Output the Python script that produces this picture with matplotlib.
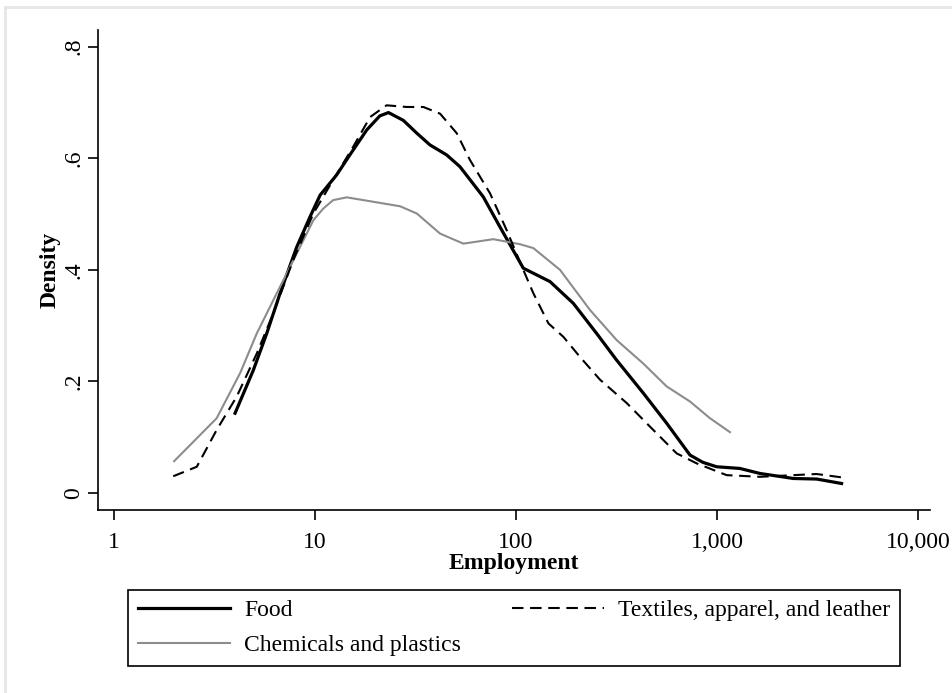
import numpy as np
import matplotlib.pyplot as plt
from matplotlib.lines import Line2D

plt.rcParams['font.family'] = ['Liberation Serif', 'DejaVu Serif']

# Kernel density of log employment
food_x = [4.0, 4.93, 5.75, 6.70, 8.11, 9.44, 10.6, 12.8, 14.9, 18.1, 21.0, 23.2, 27.5,
          32.1, 37.3, 45.2, 52.6, 68.7, 83.2, 108.7, 147.6, 192.8, 251.9, 317, 430,
          562, 734, 850, 996, 1300, 1636, 2399, 3133, 4170]
food_y = [0.143, 0.220, 0.286, 0.358, 0.441, 0.495, 0.534, 0.570, 0.606, 0.651, 0.676,
          0.682, 0.668, 0.645, 0.624, 0.606, 0.585, 0.531, 0.477, 0.403, 0.379, 0.340,
          0.286, 0.238, 0.179, 0.125, 0.068, 0.055, 0.047, 0.044, 0.035, 0.026, 0.025,
          0.017]

tex_x = [1.97, 2.58, 3.24, 4.08, 5.13, 6.20, 7.80, 9.81, 12.3, 15.5, 18.8, 22.7, 28.6,
         34.6, 41.9, 50.7, 59.0, 74.3, 89.9, 108.7, 122, 145, 172, 208, 262, 356, 464,
         630, 793, 1117, 1636, 2399, 3133, 4170]
tex_y = [0.030, 0.047, 0.113, 0.173, 0.250, 0.322, 0.418, 0.501, 0.561, 0.621, 0.674,
         0.695, 0.692, 0.692, 0.680, 0.645, 0.597, 0.537, 0.471, 0.400, 0.358, 0.304,
         0.280, 0.244, 0.203, 0.161, 0.119, 0.071, 0.053, 0.032, 0.029, 0.032, 0.034,
         0.028]

chem_x = [1.99, 3.24, 4.24, 5.13, 6.45, 8.42, 9.81, 11.0, 12.3, 14.4, 18.1, 21.9, 26.5,
          32.1, 41.9, 54.7, 77.1, 104.7, 122, 165.6, 233.5, 317, 430, 562, 734, 923,
          1161]
chem_y = [0.057, 0.134, 0.215, 0.286, 0.358, 0.441, 0.489, 0.510, 0.525, 0.530, 0.524,
          0.519, 0.514, 0.501, 0.465, 0.447, 0.455, 0.446, 0.439, 0.400, 0.328, 0.274,
          0.232, 0.191, 0.164, 0.134, 0.109]

xticks = [1, 10, 100, 1000, 10000]
xticklabels = ['1', '10', '100', '1,000', '10,000']
yticks = [0, 0.2, 0.4, 0.6, 0.8]
yticklabels = ['0', '.2', '.4', '.6', '.8']

fig = plt.figure(figsize=(9.53, 6.93), dpi=100)
ax = fig.add_axes([98 / 953, 1 - 510 / 693, (930 - 98) / 953, (510 - 30) / 693])

ax.plot(food_x, food_y, color='black', lw=2.3, label='Food')
ax.plot(chem_x, chem_y, color='#8c8c8c', lw=1.5, label='Chemicals and plastics')
ax.plot(tex_x, tex_y, color='black', lw=1.5, dashes=(5.5, 3.2),
        label='Textiles, apparel, and leather')

ax.set_xscale('log')
ax.set_xlim(0.832, 11480)
ax.set_ylim(-0.0305, 0.830)
ax.set_xticks(xticks)
ax.set_xticklabels(xticklabels)
ax.xaxis.set_minor_locator(plt.NullLocator())
ax.set_yticks(yticks)
ax.set_yticklabels(yticklabels, rotation=90, va='center')
ax.tick_params(labelsize=17, length=7, width=1.2, direction='out')
ax.tick_params(axis='x', pad=9)
ax.tick_params(axis='y', pad=3)
for s in ['top', 'right']:
    ax.spines[s].set_visible(False)
for s in ['left', 'bottom']:
    ax.spines[s].set_linewidth(1.2)

ax.set_xlabel('Employment', fontsize=17, fontweight='bold', labelpad=0)
ax.set_ylabel('Density', fontsize=17, fontweight='bold', labelpad=2)

handles, labels = ax.get_legend_handles_labels()
leg = fig.legend(handles, labels, ncol=2, mode='expand',
                 bbox_to_anchor=(128 / 953, 1 - 664 / 693, (900 - 128) / 953, 74 / 693),
                 loc='upper left', borderaxespad=0, fontsize=17, handlelength=3.9,
                 handletextpad=0.6, fancybox=False, framealpha=1, edgecolor='black',
                 borderpad=0.42, labelspacing=0.55, columnspacing=1.0)
leg.get_frame().set_linewidth(1.2)

# light frame on top/left edges of the graph region
fig.add_artist(Line2D([5 / 953, 5 / 953], [0, 1 - 7 / 693], color='#e6e6e6', lw=2,
                      transform=fig.transFigure))
fig.add_artist(Line2D([5 / 953, 1], [1 - 7 / 693, 1 - 7 / 693], color='#e6e6e6', lw=2,
                      transform=fig.transFigure))

fig.savefig('out.png', dpi=100)
